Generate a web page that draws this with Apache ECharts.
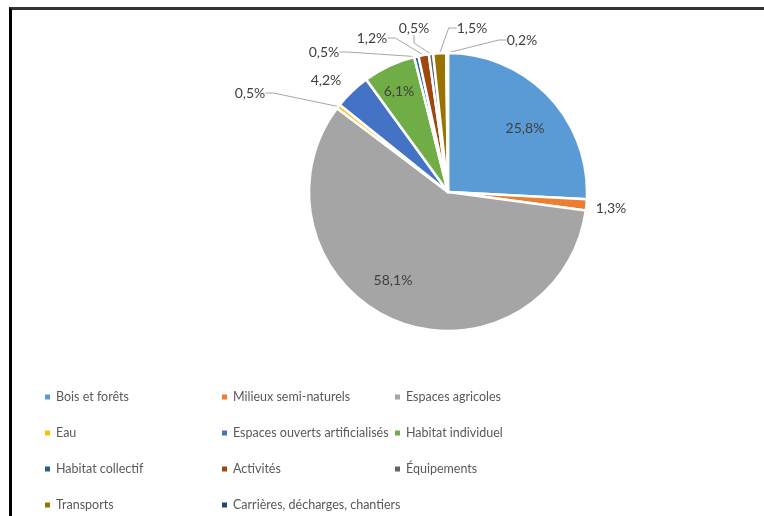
<!DOCTYPE html>
<html>
<head>
<meta charset="utf-8">
<script src="https://cdn.jsdelivr.net/npm/echarts@6/dist/echarts.min.js"></script>
<style>
  html, body { margin: 0; padding: 0; background: #fff; }
  #wrap { position: relative; width: 764px; height: 516px; }
  #main { width: 764px; height: 516px; }
  .frame { position: absolute; left: 9px; top: 7px; right: 0; bottom: 0;
           border-left: 3px solid #000; border-top: 3px solid #333; pointer-events: none; }
</style>
</head>
<body>
<div id="wrap">
  <div id="main"></div>
  <div class="frame"></div>
</div>
<script>
// occupation du sol (%)
var categories = ['Bois et forêts', 'Milieux semi-naturels', 'Espaces agricoles', 'Eau',
  'Espaces ouverts artificialisés', 'Habitat individuel', 'Habitat collectif', 'Activités',
  'Équipements', 'Transports', 'Carrières, décharges, chantiers'];
var values = [25.8, 1.3, 58.1, 0.5, 4.2, 6.1, 0.5, 1.2, 0.5, 1.5, 0.2];
var colors = ['#5b9bd5', '#ed7d31', '#a5a5a5', '#ffc000', '#4472c4', '#70ad47',
  '#255e91', '#9e480e', '#636363', '#997300', '#264478'];

// colonnes de la légende
var legendCols = [
  ['Bois et forêts', 'Eau', 'Habitat collectif', 'Transports'],
  ['Milieux semi-naturels', 'Espaces ouverts artificialisés', 'Activités', 'Carrières, décharges, chantiers'],
  ['Espaces agricoles', 'Habitat individuel', 'Équipements']
];
var legendLeft = [43, 220, 393];

// placement des étiquettes (centre), ligne de rappel ou non
var labelPos = [
  [525, 128, false], [611, 208, false], [393, 280, false], [250, 93, true],
  [326, 80, false], [399, 91, false], [324, 52, true], [372, 38, true],
  [414, 28, true], [472, 28, true], [522, 40, true]
];

var font = 'Lato, "Open Sans", sans-serif';

var myChart = echarts.init(document.getElementById('main'));

var pieData = categories.map(function (c, i) {
  return {
    name: c,
    value: values[i],
    itemStyle: { color: colors[i] },
    labelLine: { show: labelPos[i][2] }
  };
});

var legends = legendCols.map(function (col, k) {
  return {
    data: col,
    orient: 'vertical',
    left: legendLeft[k],
    top: 389,
    padding: 0,
    itemGap: 20,
    itemWidth: 7,
    itemHeight: 7,
    icon: 'rect',
    selectedMode: false,
    textStyle: { color: '#595959', fontSize: 12.5, lineHeight: 16, fontFamily: font }
  };
});

var option = {
  animation: false,
  color: colors,
  legend: legends,
  series: [
    {
      type: 'pie',
      center: [448, 192],
      radius: 139,
      startAngle: 90,
      clockwise: true,
      avoidLabelOverlap: false,
      itemStyle: { borderColor: '#fff', borderWidth: 2.5 },
      emphasis: { disabled: true },
      label: {
        show: true,
        position: 'outside',
        formatter: function (p) { return p.value.toFixed(1).replace('.', ',') + '%'; },
        color: '#404040',
        fontSize: 14,
        fontFamily: font
      },
      labelLine: {
        show: true,
        length: 8,
        length2: 8,
        lineStyle: { color: '#a6a6a6', width: 1 }
      },
      labelLayout: function (params) {
        var p = labelPos[params.dataIndex];
        return { x: p[0], y: p[1], align: 'center', verticalAlign: 'middle' };
      },
      data: pieData
    }
  ]
};

myChart.setOption(option);
window.addEventListener('resize', function () {
  myChart.resize();
});
</script>
</body>
</html>
